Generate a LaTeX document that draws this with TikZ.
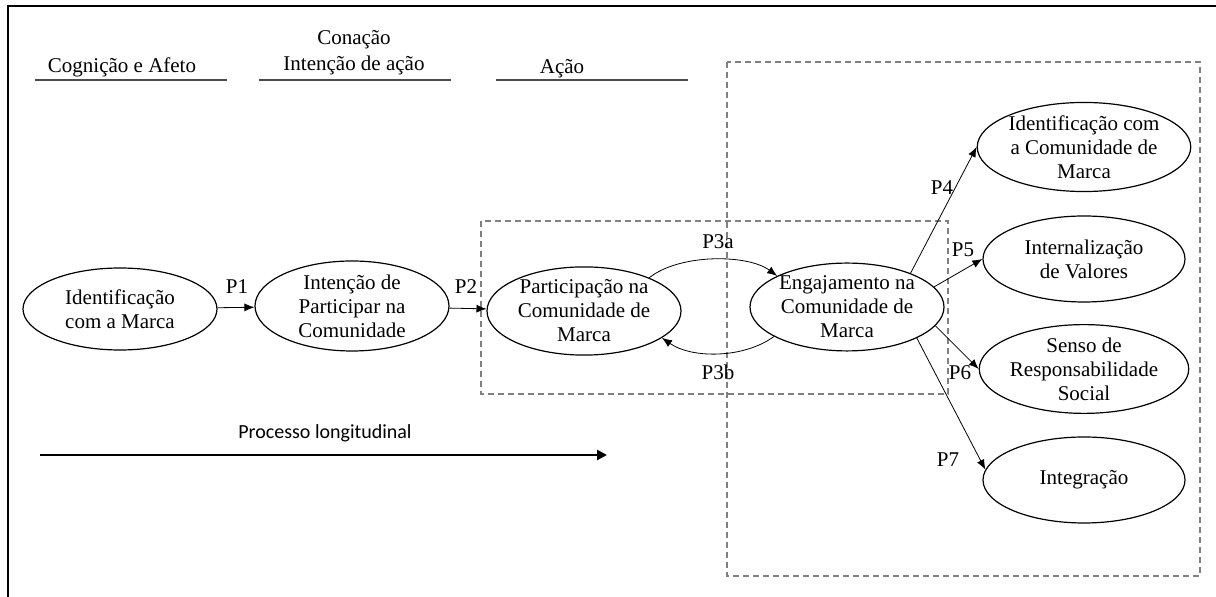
\documentclass[tikz,border=0pt]{standalone}
\usepackage{fontspec}
\setmainfont{Liberation Serif}
\newfontfamily\calibrifont{Carlito}
\usetikzlibrary{shapes.geometric,arrows.meta,positioning,calc}

\begin{document}
\begin{tikzpicture}[
    x=0.5pt, y=-0.5pt,
    construct/.style={ellipse, draw, line width=0.6pt, inner sep=0pt, align=center,
        font=\fontsize{10.5}{12}\selectfont, minimum width=97pt, minimum height=43.5pt},
    outcome/.style={construct, minimum width=101pt, minimum height=43pt},
    plabel/.style={font=\fontsize{10.5}{12}\selectfont, inner sep=1pt},
    arrow/.style={-{Latex[length=5pt,width=4pt]}, line width=0.4pt},
    stage/.style={font=\fontsize{10.5}{13}\selectfont, align=center},
    stageline/.style={draw=black!70, line width=0.7pt},
    group/.style={draw=black!50, dash pattern=on 3pt off 2pt, line width=0.6pt}
]
    \useasboundingbox (0,0) rectangle (1216,597);

    % Frame
    \draw[line width=1pt] (8,597) -- (8,6) -- (1216,6);

    % Stages
    \node[stage] (cog) at (122,67) {Cognição e Afeto};
    \node[stage] (con) at (354,53) {Conação\\Intenção de ação};
    \node[stage] (acao) at (562,69) {Ação};
    \draw[stageline] (35,80) -- (227,80);
    \draw[stageline] (259,80) -- (451,80);
    \draw[stageline] (496,80) -- (688,80);

    % Groups
    \draw[group] (727,62) rectangle (1200,576);
    \draw[group] (481,221) rectangle (948,394);

    % Constructs
    \node[construct, minimum height=41pt] (idm) at (120,309) {Identificação\\com a Marca};
    \node[construct, minimum height=45pt] (int) at (352,306) {Intenção de\\Participar na\\Comunidade};
    \node[construct] (part) at (584,311) {Participação na\\Comunidade de\\Marca};
    \node[construct] (eng) at (847,307) {Engajamento na\\Comunidade de\\Marca};
    \foreach \n/\y/\t in {idc/147/{Identificação com\\a Comunidade de\\Marca},
                          val/259/{Internalização\\de Valores},
                          soc/369/{Senso de\\Responsabilidade\\Social},
                          integ/480/{Integração}} {
        \node[outcome] (\n) at (1084,\y) {\t};
    }

    % Paths
    \draw[arrow] (idm) -- (int);
    \draw[arrow] (int) -- (part);
    \draw[arrow] (part.27) .. controls +(30,-24) and +(-30,-22) .. (eng.156);
    \draw[arrow] (eng.202) .. controls +(-30,22) and +(30,21) .. (part.-19);
    \draw[arrow] (eng.28) -- (idc.west);
    \draw[arrow] (eng.13) -- (val.west);
    \draw[arrow] (eng.-12) -- (soc.west);
    \draw[arrow] (eng.-24) -- (integ.174);

    % Labels
    \node[plabel] (p1) at (237,287) {P1};
    \node[plabel] (p2) at (466,287) {P2};
    \node[plabel] (p3a) at (718,242) {P3a};
    \node[plabel] (p3b) at (718,372) {P3b};
    \node[plabel] (p4) at (942,188) {P4};
    \node[plabel] (p5) at (963,250) {P5};
    \node[plabel] (p6) at (960,373) {P6};
    \node[plabel] (p7) at (948,460) {P7};

    % Time arrow
    \coordinate (tstart) at (40,455);
    \coordinate (tend) at (607,455);
    \draw[line width=1.3pt, -{Triangle[length=5pt,width=5pt]}] (tstart) -- (tend);
    \node[font=\calibrifont\fontsize{10}{12}\selectfont] (proc) at (325,433) {Processo longitudinal};
\end{tikzpicture}
\end{document}
